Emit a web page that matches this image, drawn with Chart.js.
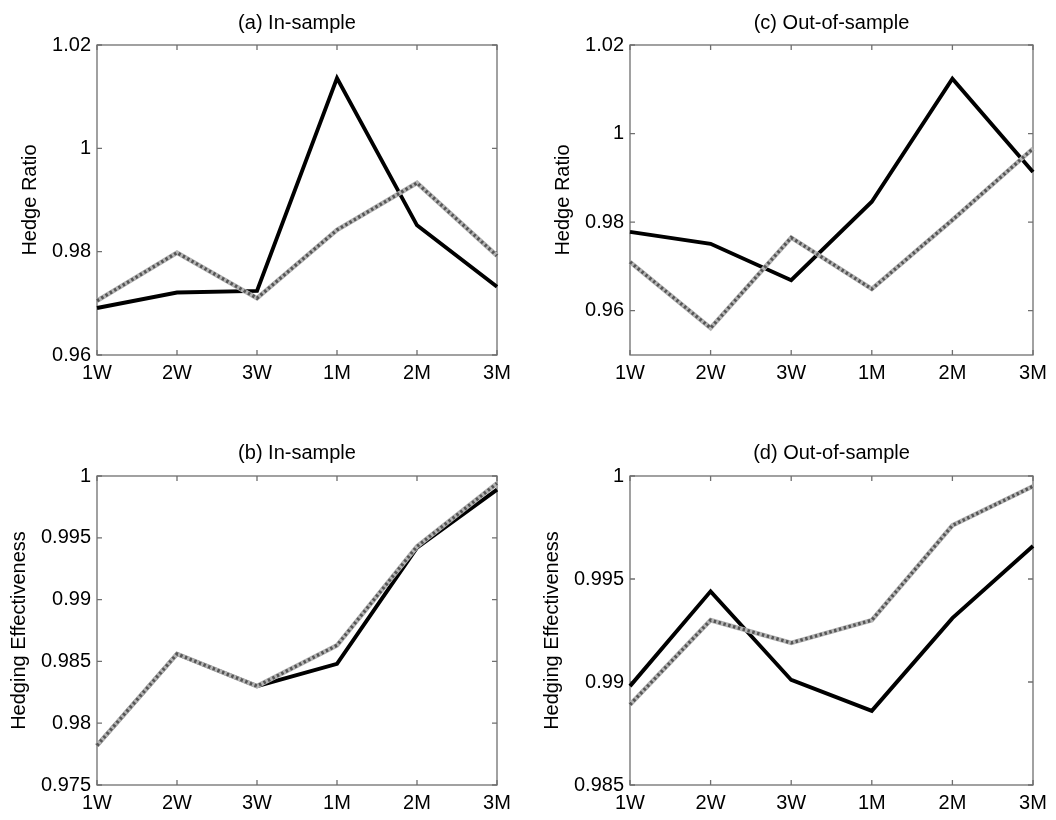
<!DOCTYPE html>
<html><head><meta charset="utf-8">
<script src="https://cdn.jsdelivr.net/npm/chart.js@4.4.1/dist/chart.umd.min.js"></script>
<style>
html,body{margin:0;padding:0;background:#fff}
body{width:1056px;height:820px;position:relative;overflow:hidden}
canvas{position:absolute;display:block}
</style></head><body>
<canvas id="ca" width="528" height="400" style="left:0;top:0"></canvas>
<canvas id="cc" width="528" height="400" style="left:528px;top:0"></canvas>
<canvas id="cb" width="528" height="420" style="left:0;top:400px"></canvas>
<canvas id="cd" width="528" height="420" style="left:528px;top:400px"></canvas>
<script>
// ---- data ----
const horizons = ['1W','2W','3W','1M','2M','3M'];

const hrInBlack  = [0.9691, 0.9721, 0.9724, 1.0136, 0.9851, 0.9732];
const hrInGray   = [0.9705, 0.9798, 0.9710, 0.9842, 0.9933, 0.9792];
const hrOutBlack = [0.9778, 0.9751, 0.9669, 0.9846, 1.0124, 0.9913];
const hrOutGray  = [0.9710, 0.9561, 0.9765, 0.9649, 0.9805, 0.9966];

const heInBlack  = [0.9782, 0.9856, 0.9830, 0.9848, 0.9942, 0.9989];
const heInGray   = [0.9782, 0.9856, 0.9830, 0.9863, 0.9943, 0.9994];
const heOutBlack = [0.9898, 0.9944, 0.9901, 0.9886, 0.9931, 0.9966];
const heOutGray  = [0.9889, 0.9930, 0.9919, 0.9930, 0.9976, 0.9995];

const ticksA = [0.96, 0.98, 1, 1.02];
const ticksC = [0.96, 0.98, 1, 1.02];
const ticksB = [0.975, 0.98, 0.985, 0.99, 0.995, 1];
const ticksD = [0.985, 0.99, 0.995, 1];

// ---- drawing ----
Chart.defaults.font.family = '"Liberation Sans", Arial, sans-serif';
Chart.defaults.color = '#000';

const frame = {
  id: 'frame',
  beforeDatasetsDraw(chart) {
    const {ctx, chartArea: a, scales: {x, y}} = chart;
    ctx.save();
    ctx.strokeStyle = '#6f6f6f';
    ctx.lineWidth = 1.3;
    ctx.strokeRect(a.left, a.top, a.right - a.left, a.bottom - a.top);
    const L = 5;
    ctx.beginPath();
    x.ticks.forEach((t, i) => {
      const px = x.getPixelForTick(i);
      ctx.moveTo(px, a.bottom); ctx.lineTo(px, a.bottom - L);
      ctx.moveTo(px, a.top); ctx.lineTo(px, a.top + L);
    });
    y.ticks.forEach(t => {
      const py = y.getPixelForValue(t.value);
      ctx.moveTo(a.left, py); ctx.lineTo(a.left + L, py);
      ctx.moveTo(a.right, py); ctx.lineTo(a.right - L, py);
    });
    ctx.stroke();
    ctx.restore();
  }
};

function fmt(v) { return String(+Number(v).toFixed(4)); }

function panel(id, title, yTitle, black, gray, yMin, yMax, yTicks, g) {
  new Chart(document.getElementById(id), {
    type: 'line',
    data: {
      labels: horizons,
      datasets: [
        {data: black, borderColor: '#000', borderWidth: 3.9, order: 3},
        {data: gray, borderColor: '#b4b4b4', borderWidth: 4.6, order: 2},
        {data: gray, borderColor: '#555', borderWidth: 3.3, borderDash: [2.5, 2.5], order: 1}
      ]
    },
    options: {
      responsive: false,
      animation: false,
      events: [],
      elements: {point: {radius: 0}, line: {tension: 0, borderCapStyle: 'butt', borderJoinStyle: 'miter'}},
      layout: {padding: {left: 0, right: g.padRight, top: 0, bottom: 0}},
      plugins: {
        legend: {display: false},
        tooltip: {enabled: false},
        title: {
          display: true, text: title, fullSize: false,
          font: {size: 20, weight: 'normal', lineHeight: 1.2},
          color: '#000',
          padding: {top: g.tTop, bottom: g.tBottom}
        }
      },
      scales: {
        x: {
          offset: false,
          grid: {display: false, drawTicks: false},
          border: {display: false},
          ticks: {font: {size: 20}, padding: 6, maxRotation: 0, autoSkip: false},
          afterFit(s) { s.height = g.xH; }
        },
        y: {
          min: yMin, max: yMax,
          grid: {display: false, drawTicks: false},
          border: {display: false},
          ticks: {font: {size: 20}, padding: 6, callback: v => fmt(v)},
          afterBuildTicks(s) { s.ticks = yTicks.map(v => ({value: v})); },
          title: {display: true, text: yTitle, font: {size: 20}, padding: {top: g.yTitlePad, bottom: 0}},
          afterFit(s) { s.width = g.yW; }
        }
      }
    },
    plugins: [frame]
  });
}

panel('ca', '(a) In-sample', 'Hedge Ratio', hrInBlack, hrInGray, 0.96, 1.02, ticksA,
  {padRight: 31, tTop: 11, tBottom: 10, xH: 45, yW: 97, yTitlePad: 18});
panel('cc', '(c) Out-of-sample', 'Hedge Ratio', hrOutBlack, hrOutGray, 0.95, 1.02, ticksC,
  {padRight: 23, tTop: 11, tBottom: 10, xH: 45, yW: 102, yTitlePad: 23});
panel('cb', '(b) In-sample', 'Hedging Effectiveness', heInBlack, heInGray, 0.975, 1, ticksB,
  {padRight: 31, tTop: 41, tBottom: 11, xH: 35, yW: 97, yTitlePad: 7.5});
panel('cd', '(d) Out-of-sample', 'Hedging Effectiveness', heOutBlack, heOutGray, 0.985, 1, ticksD,
  {padRight: 23, tTop: 41, tBottom: 11, xH: 35, yW: 102, yTitlePad: 12});
</script>
</body></html>
